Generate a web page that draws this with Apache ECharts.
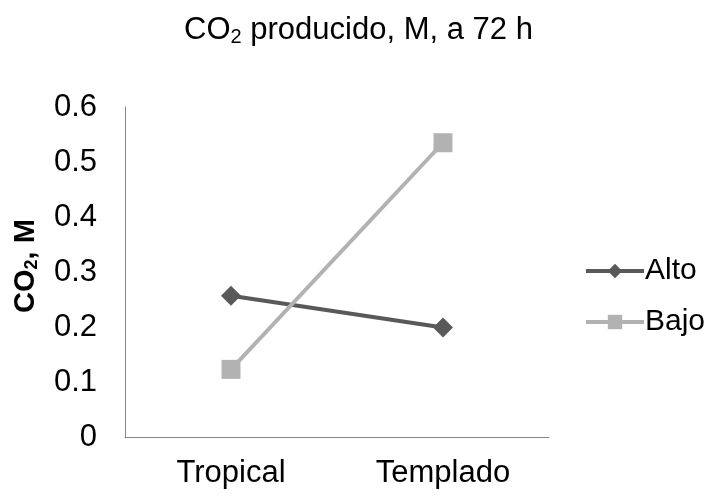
<!DOCTYPE html>
<html>
<head>
<meta charset="UTF-8">
<title>CO2 producido</title>
<style>
  html, body { margin: 0; padding: 0; background: #fff; }
  #chart { width: 717px; height: 497px; }
</style>
<script src="https://cdn.jsdelivr.net/npm/echarts@6/dist/echarts.min.js"></script>
</head>
<body>
<div id="chart"></div>
<script>
var categories = ['Tropical', 'Templado'];
var alto = [0.257, 0.199];
var bajo = [0.123, 0.535];
var yTicks = { min: 0, max: 0.6, step: 0.1 };

var chart = echarts.init(document.getElementById('chart'));
var font = '"Liberation Sans", Arial, sans-serif';

var option = {
  animation: false,
  title: {
    text: '{a|CO}{s|2}{a| producido, M, a 72 h}',
    left: 'center',
    top: 8,
    textStyle: {
      rich: {
        a: { fontFamily: font, fontSize: 31, fontWeight: 'normal', color: '#000', lineHeight: 34 },
        s: { fontFamily: font, fontSize: 20, fontWeight: 'normal', color: '#000', lineHeight: 20, verticalAlign: 'bottom' }
      }
    }
  },
  grid: { left: 125, right: 168, top: 107, bottom: 60, outerBoundsMode: 'none', containLabel: false },
  legend: {
    orient: 'vertical',
    left: 579,
    top: 250,
    itemWidth: 58,
    itemHeight: 18,
    itemGap: 19,
    data: ['Alto', 'Bajo'],
    textStyle: { fontFamily: font, fontSize: 30, color: '#000', lineHeight: 32, padding: [0, 0, 0, -4] },
    lineStyle: { width: 4 }
  },
  xAxis: {
    type: 'category',
    data: categories,
    boundaryGap: true,
    axisLine: { lineStyle: { color: '#868686', width: 1 } },
    axisTick: { show: false },
    axisLabel: { fontFamily: font, fontSize: 31, color: '#000', margin: 21 }
  },
  yAxis: {
    type: 'value',
    min: yTicks.min,
    max: yTicks.max,
    interval: yTicks.step,
    name: '{b|CO}{t|2}{b|, M}',
    nameLocation: 'middle',
    nameGap: 84,
    nameTextStyle: {
      padding: [0, 0, 0, 12],
      rich: {
        b: { fontFamily: font, fontSize: 29, fontWeight: 'bold', color: '#000', lineHeight: 30 },
        t: { fontFamily: font, fontSize: 18, fontWeight: 'bold', color: '#000', lineHeight: 18, verticalAlign: 'bottom' }
      }
    },
    axisLine: { show: true, lineStyle: { color: '#868686', width: 1 } },
    axisTick: { show: false },
    splitLine: { show: false },
    axisLabel: { fontFamily: font, fontSize: 31, color: '#000', margin: 28 }
  },
  series: [
    {
      name: 'Alto',
      type: 'line',
      data: alto,
      symbol: 'diamond',
      symbolSize: 20,
      lineStyle: { color: '#595959', width: 4 },
      itemStyle: { color: '#595959' }
    },
    {
      name: 'Bajo',
      type: 'line',
      data: bajo,
      symbol: 'rect',
      symbolSize: 19,
      lineStyle: { color: '#b2b2b2', width: 4 },
      itemStyle: { color: '#b2b2b2' }
    }
  ]
};

chart.setOption(option);
</script>
</body>
</html>
